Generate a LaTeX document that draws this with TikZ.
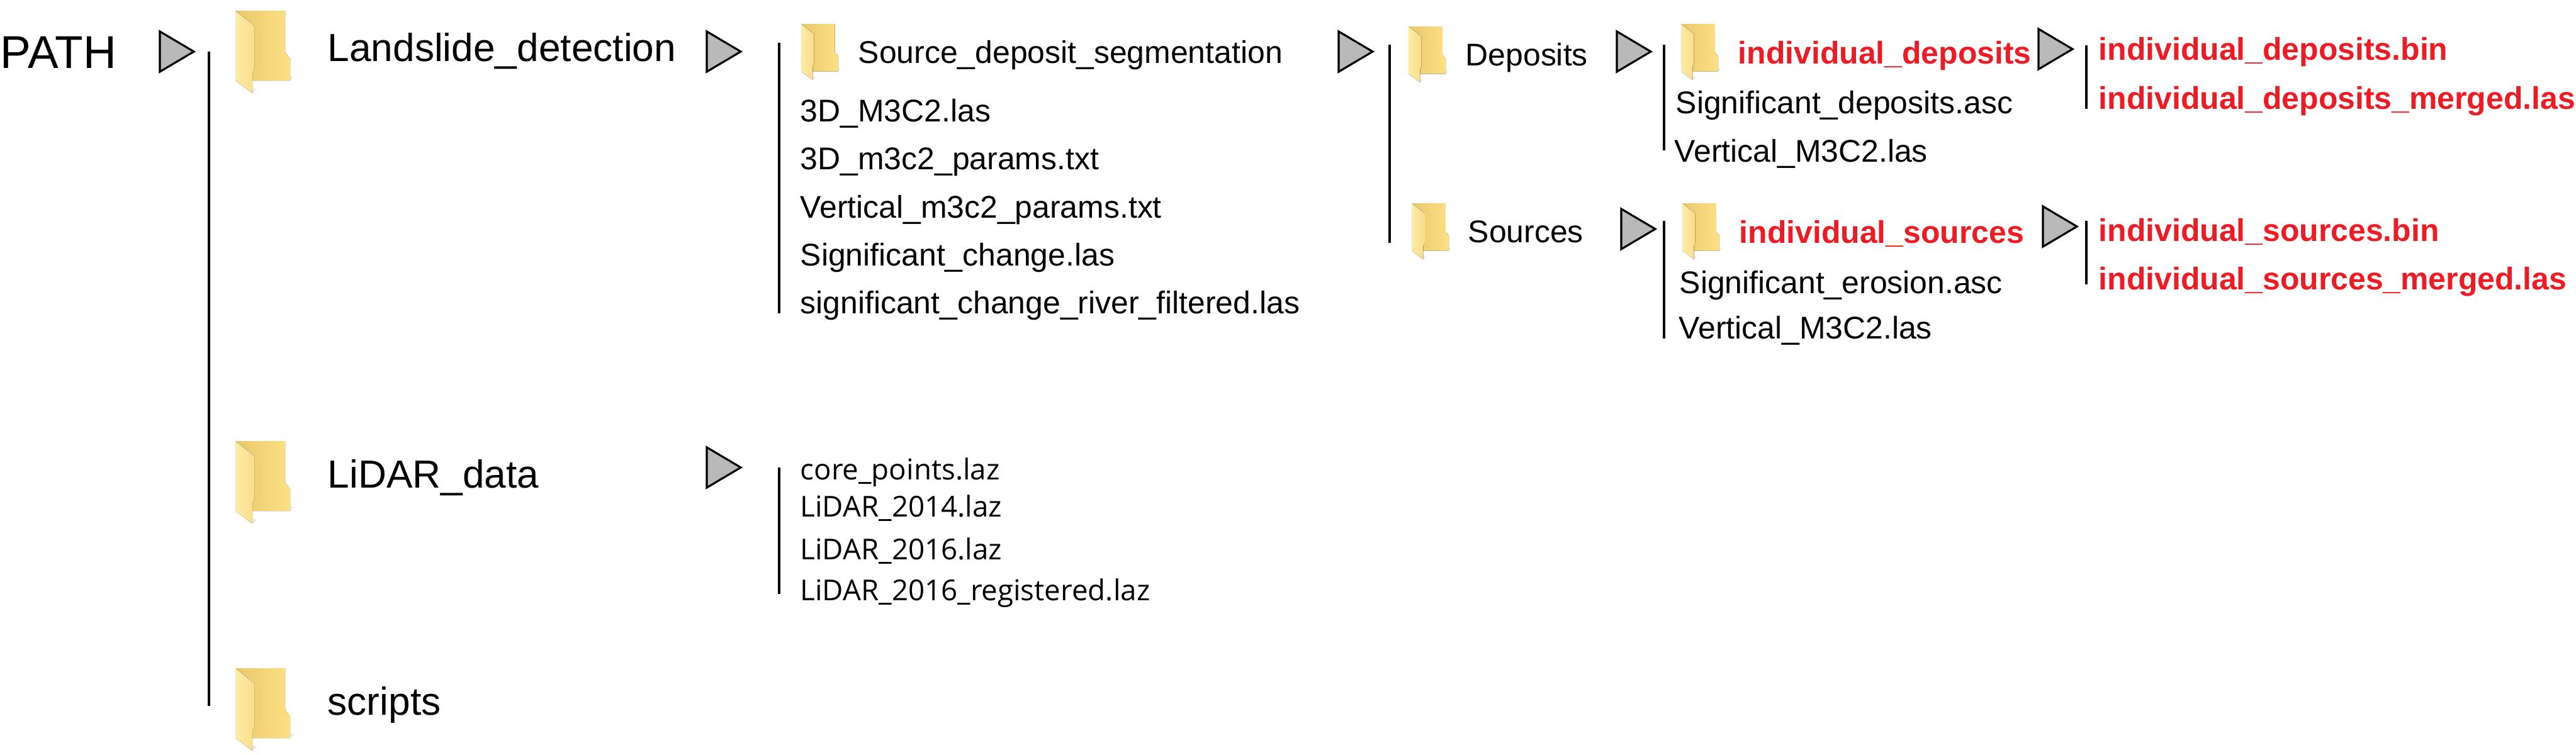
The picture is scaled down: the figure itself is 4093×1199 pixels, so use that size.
\documentclass[tikz,border=0pt]{standalone}
\usepackage{fontspec}
\setmainfont{Liberation Sans}
\newfontfamily\lidarfont{Open Sans}
\usetikzlibrary{calc}

\definecolor{folderlight}{HTML}{FDEBA6}
\definecolor{foldermid}{HTML}{F9DD8B}
\definecolor{folderdark}{HTML}{EBC76C}
\definecolor{folderback}{HTML}{FCE184}
\definecolor{pointergray}{HTML}{B9B9B9}
\definecolor{outred}{HTML}{ED1C24}

\tikzset{
    toplabel/.style={anchor=base west,inner sep=0pt,font=\fontsize{17.7}{20}\selectfont},
    pathlabel/.style={anchor=base west,inner sep=0pt,font=\fontsize{20.8}{24}\selectfont},
    filelabel/.style={anchor=base west,inner sep=0pt,font=\fontsize{14.2}{17}\selectfont},
    lidarlabel/.style={anchor=base west,inner sep=0pt,font=\fontsize{13}{16}\selectfont\lidarfont},
    outlabel/.style={filelabel,text=outred,font=\fontsize{14.2}{17}\selectfont\bfseries},
    treeline/.style={line width=1.1pt},
    folder/.pic={
        % shadow, back panel, front flap
        \fill[black!7] (27,111) -- (94,104) -- (87,111) --cycle;
        \fill[black!7] (27,131) -- (35,125) -- (27,122) --cycle;
        \fill[left color=folderdark,right color=folderback]
            (0,0) -- (79,0) -- (79,66) -- (87,76) -- (87,111) -- (27,111) -- (27,20) --cycle;
        \fill[left color=folderlight,right color=foldermid]
            (0,0) -- (30,24) -- (30,94) -- (27,99) -- (27,131) -- (0,111) --cycle;
    },
    pointer/.pic={
        \coordinate (-P1) at (0,-32);
        \coordinate (-P2) at (54,0);
        \coordinate (-P3) at (0,32);
        \draw[fill=pointergray,line width=0.9pt] (-P1) -- (-P2) -- (-P3) --cycle;
    }
}

\begin{document}
\begin{tikzpicture}[x=0.1mm,y=-0.1mm]
    \useasboundingbox (0,0) rectangle (4093,1199);

    % top level
    \node[pathlabel] (path) at (0,108) {PATH};
    \pic at (254,82) {pointer};
    \coordinate (L1a) at (332,82);
    \coordinate (L1b) at (332,1122);
    \draw[treeline] (L1a) -- (L1b);

    \pic at (374,17) {folder};
    \pic at (374,701) {folder};
    \pic at (374,1062) {folder};
    \node[toplabel] (landslide) at (520,97) {Landslide\_detection};
    \node[toplabel] (lidar) at (520,775) {LiDAR\_data};
    \node[toplabel] (scripts) at (520,1136) {scripts};

    % landslide detection
    \pic at (1123,82) {pointer};
    \coordinate (L2a) at (1238,68);
    \coordinate (L2b) at (1238,498);
    \draw[treeline] (L2a) -- (L2b);
    \pic[scale=0.68] at (1273,38) {folder};
    \node[filelabel] (segm) at (1363,100) {Source\_deposit\_segmentation};
    \node[filelabel] (fa) at (1271,193) {3D\_M3C2.las};
    \node[filelabel] (fb) at (1271,269) {3D\_m3c2\_params.txt};
    \node[filelabel] (fc) at (1271,346) {Vertical\_m3c2\_params.txt};
    \node[filelabel] (fd) at (1271,422) {Significant\_change.las};
    \node[filelabel] (fe) at (1271,498) {significant\_change\_river\_filtered.las};

    % segmentation
    \pic at (2127,82) {pointer};
    \coordinate (L3a) at (2208,71);
    \coordinate (L3b) at (2208,386);
    \draw[treeline] (L3a) -- (L3b);
    \pic[scale=0.68] at (2238,42) {folder};
    \pic[scale=0.68] at (2243,323) {folder};
    \node[filelabel] (deposits) at (2328,104) {Deposits};
    \node[filelabel] (sources) at (2332,385) {Sources};

    % deposits
    \pic at (2569,82) {pointer};
    \coordinate (L4a) at (2644,71);
    \coordinate (L4b) at (2644,239);
    \draw[treeline] (L4a) -- (L4b);
    \pic[scale=0.68] at (2671,38) {folder};
    \node[outlabel] (inddep) at (2761,101) {individual\_deposits};
    \node[filelabel] (sigdep) at (2662,180) {Significant\_deposits.asc};
    \node[filelabel] (vertdep) at (2660,257) {Vertical\_M3C2.las};

    \pic at (3239,78) {pointer};
    \coordinate (L5a) at (3315,72);
    \coordinate (L5b) at (3315,173);
    \draw[treeline] (L5a) -- (L5b);
    \node[outlabel] (depbin) at (3334,95) {individual\_deposits.bin};
    \node[outlabel] (deplas) at (3334,173) {individual\_deposits\_merged.las};

    % sources
    \pic at (2576,364) {pointer};
    \coordinate (L6a) at (2644,351);
    \coordinate (L6b) at (2644,538);
    \draw[treeline] (L6a) -- (L6b);
    \pic[scale=0.68] at (2673,323) {folder};
    \node[outlabel] (indsrc) at (2763,386) {individual\_sources};
    \node[filelabel] (sigsrc) at (2668,466) {Significant\_erosion.asc};
    \node[filelabel] (vertsrc) at (2667,538) {Vertical\_M3C2.las};

    \pic at (3246,360) {pointer};
    \coordinate (L7a) at (3315,351);
    \coordinate (L7b) at (3315,452);
    \draw[treeline] (L7a) -- (L7b);
    \node[outlabel] (srcbin) at (3334,383) {individual\_sources.bin};
    \node[outlabel] (srclas) at (3334,460) {individual\_sources\_merged.las};

    % lidar data
    \pic at (1123,743) {pointer};
    \coordinate (L8a) at (1238,743);
    \coordinate (L8b) at (1238,944);
    \draw[treeline] (L8a) -- (L8b);
    \node[lidarlabel] (core) at (1271,762) {core\_points.laz};
    \node[lidarlabel] (li14) at (1271,821) {LiDAR\_2014.laz};
    \node[lidarlabel] (li16) at (1271,889) {LiDAR\_2016.laz};
    \node[lidarlabel] (li16r) at (1271,954) {LiDAR\_2016\_registered.laz};
\end{tikzpicture}
\end{document}
